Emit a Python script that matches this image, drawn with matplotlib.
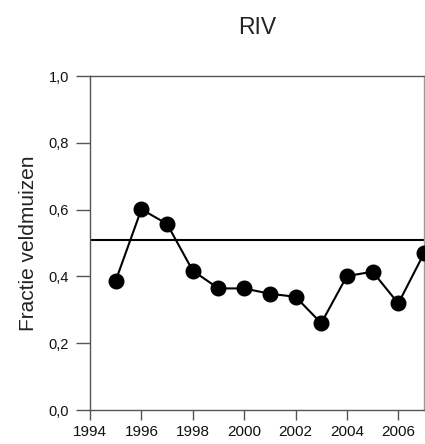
import matplotlib
matplotlib.use("Agg")
import matplotlib.pyplot as plt
from matplotlib.ticker import FuncFormatter

plt.rcParams['font.family'] = ['Liberation Sans', 'DejaVu Sans']

years = [1995, 1996, 1997, 1998, 1999, 2000, 2001, 2002, 2003, 2004, 2005, 2006, 2007]
fractie = [0.387, 0.601, 0.557, 0.417, 0.364, 0.364, 0.348, 0.339, 0.260, 0.401, 0.414, 0.319, 0.469]
gemiddelde = 0.508
x_ticks = [1994, 1996, 1998, 2000, 2002, 2004, 2006]
y_ticks = [0.0, 0.2, 0.4, 0.6, 0.8, 1.0]

fig = plt.figure(figsize=(4.25, 4.44), dpi=100)
ax = fig.add_axes([90 / 425, 1 - 410 / 444, 334 / 425, 334 / 444])

ax.axhline(gemiddelde, color='black', lw=1.5, zorder=2)
ax.plot(years, fractie, color='black', lw=1.5, marker='o', markersize=10.5, zorder=3)

ax.set_xlim(1994, 2007)
ax.set_ylim(0, 1)
ax.set_xticks(x_ticks)
ax.set_yticks(y_ticks)
ax.yaxis.set_major_formatter(FuncFormatter(lambda v, p: f"{v:.1f}".replace('.', ',')))

for s in ['left', 'bottom', 'top', 'right']:
    ax.spines[s].set_color('#555555')
    ax.spines[s].set_linewidth(1.0)
ax.spines['right'].set_color('#999999')

ax.tick_params(axis='y', direction='out', length=10, width=1, color='#555555',
               labelsize=10.5, pad=5, labelcolor='#111111')
ax.tick_params(axis='x', direction='out', length=7, width=1, color='#555555',
               labelsize=11, pad=4, labelcolor='#111111')

ax.set_ylabel('Fractie veldmuizen', fontsize=15, labelpad=8, color='#222222')
fig.text(257 / 425, 1 - 27 / 444, 'RIV', fontsize=16.5, ha='center', va='center',
         color='#222222')

fig.savefig('out.png', dpi=100)
